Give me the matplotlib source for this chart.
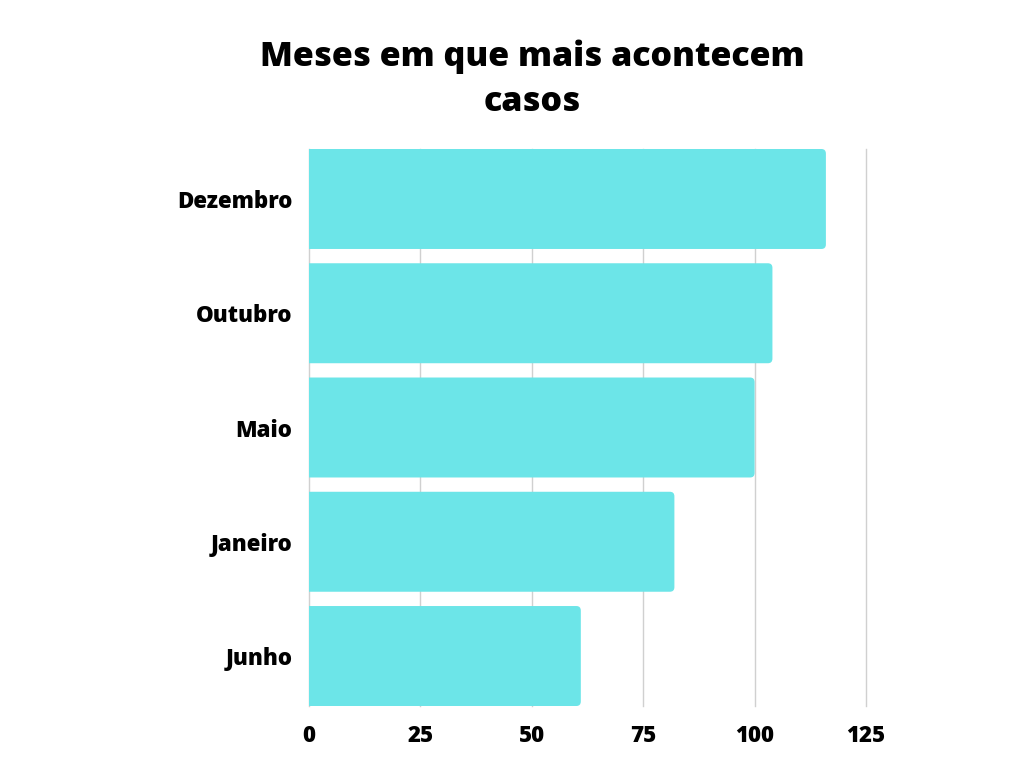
import matplotlib.pyplot as plt
from matplotlib.patches import FancyBboxPatch

# dados
meses = ["Junho", "Janeiro", "Maio", "Outubro", "Dezembro"]
casos = [61, 82, 100, 104, 116]
ticks = [0, 25, 50, 75, 100, 125]

plt.rcParams['font.family'] = ['Open Sans', 'DejaVu Sans']

fig = plt.figure(figsize=(10.24, 7.68), dpi=100)
ax = fig.add_axes([309 / 1024, 1 - 706 / 768, 557 / 1024, 557 / 768])

# barras
bars = ax.barh(meses, casos, height=0.875, color="#6ce5e8", zorder=2)

# cantos arredondados so do lado direito: a barra arredondada comeca
# antes do zero e o lado esquerdo fica cortado pelo eixo
for b in bars:
    x, y = b.get_x(), b.get_y()
    w, h = b.get_width(), b.get_height()
    ax.add_patch(FancyBboxPatch((x - 3, y), w + 3, h,
                                boxstyle="round,pad=0,rounding_size=1.0",
                                mutation_aspect=0.04,
                                facecolor=b.get_facecolor(), edgecolor="none", zorder=2))
    b.set_visible(False)

ax.set_xlim(0, 125)
ax.set_ylim(-0.4375, 4.4375)
ax.set_xticks(ticks)
ax.grid(axis="x", color="#d0d0d0", linewidth=1, zorder=1)
ax.grid(axis="y", visible=False)
for gl in ax.get_xgridlines():
    gl.set_clip_on(False)

for s in ax.spines.values():
    s.set_visible(False)
ax.tick_params(length=0)
ax.tick_params(axis="x", pad=13, labelsize=16)
ax.tick_params(axis="y", pad=12, labelsize=16)
for lbl in ax.get_xticklabels() + ax.get_yticklabels():
    lbl.set_fontweight("heavy")

# titulo
fig.text(0.52, 0.897, "Meses em que mais acontecem\ncasos", ha="center", va="center",
         fontsize=24.5, fontweight="heavy", linespacing=1.4)

plt.savefig("out.png", dpi=100)
